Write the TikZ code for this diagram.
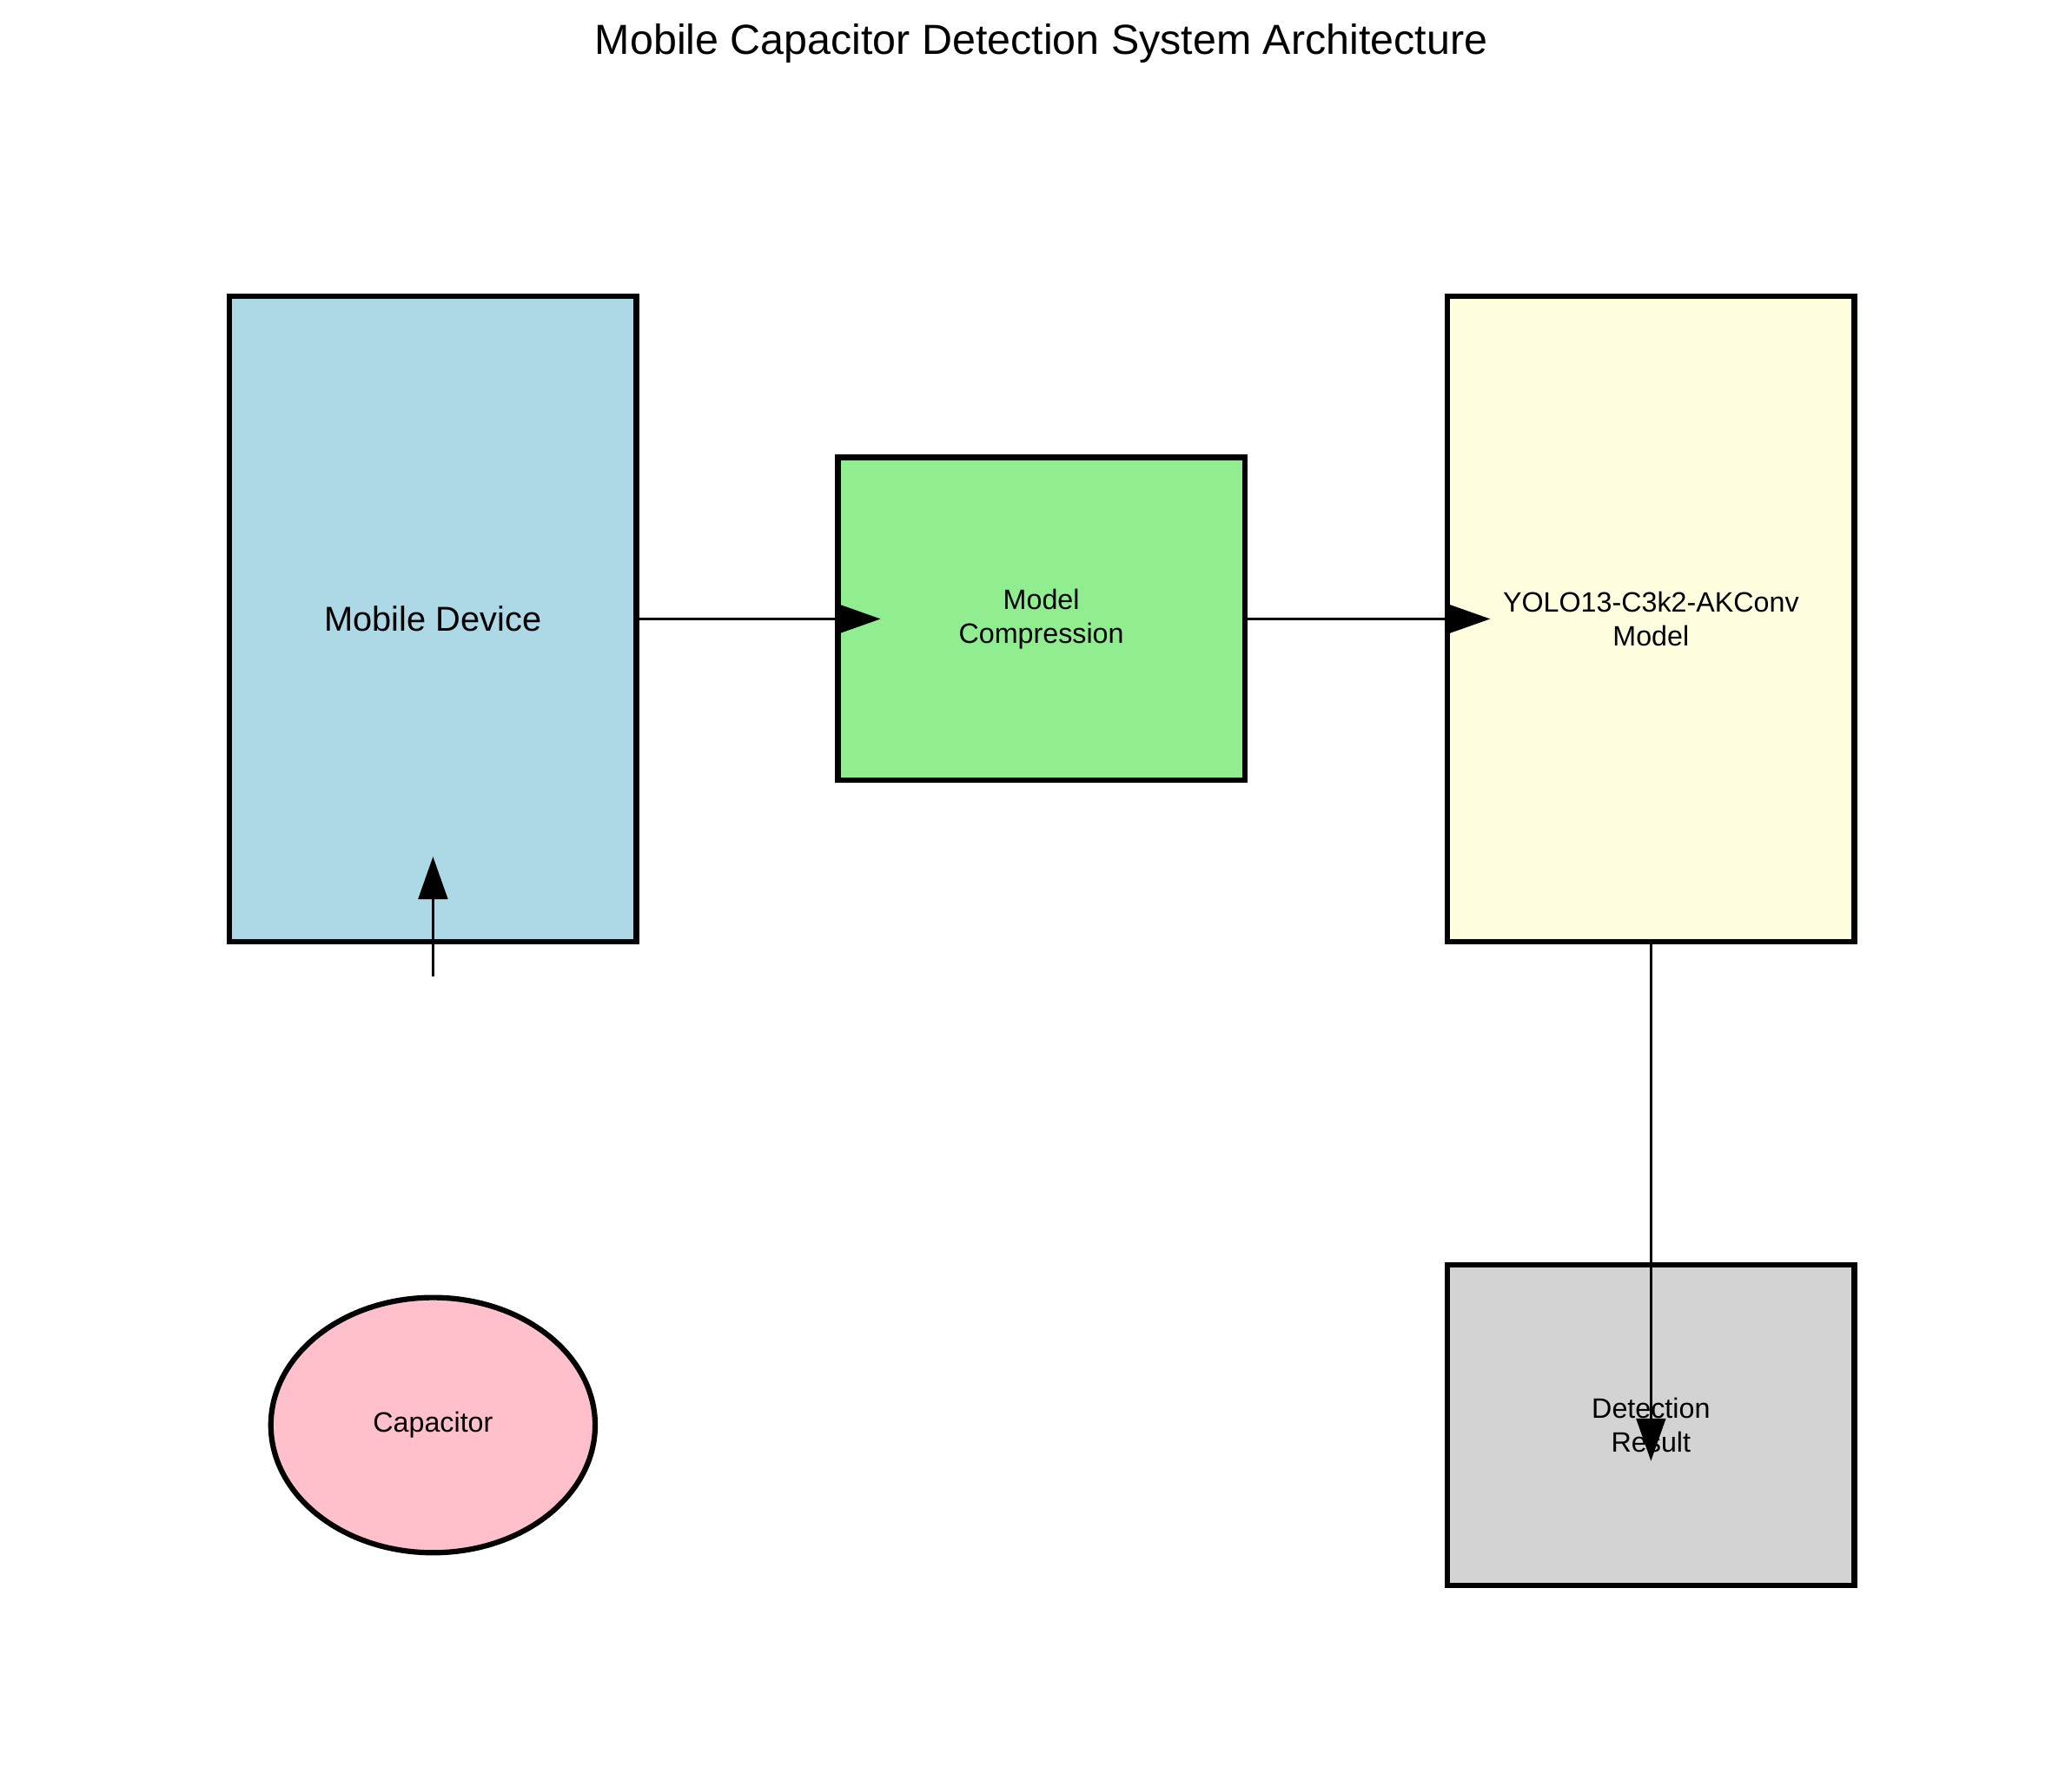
\documentclass[tikz,border=0pt]{standalone}
\usepackage{fontspec}
\setmainfont{Liberation Sans}
\usetikzlibrary{shapes.geometric,arrows.meta}
\definecolor{cblue}{HTML}{ADD8E6}
\definecolor{cgreen}{HTML}{90EE90}
\definecolor{cyellow}{HTML}{FFFFE0}
\definecolor{cgray}{HTML}{D3D3D3}
\definecolor{cpink}{HTML}{FFC0CB}
\begin{document}
\begin{tikzpicture}[x=0.01cm,y=-0.01cm,
  box/.style={draw=black,line width=1.15pt,inner sep=0pt,align=center,font=\fontsize{6}{7.2}\selectfont},
  conn/.style={line width=0.6pt,-{Triangle[length=0.32cm,width=0.22cm]}}]
\useasboundingbox (0,0) rectangle (1560,1330);
\node[font=\fontsize{9}{11}\selectfont] (title) at (784,33) {Mobile Capacitor Detection System Architecture};
\node[box,fill=cblue,minimum width=3.06cm,minimum height=4.86cm,font=\fontsize{7.4}{9}\selectfont] (mob) at (326,466) {Mobile Device};
\node[box,fill=cgreen,minimum width=3.06cm,minimum height=2.43cm] (comp) at (784,466) {Model\\Compression};
\node[box,fill=cyellow,minimum width=3.06cm,minimum height=4.86cm] (yolo) at (1243,466) {YOLO13-C3k2-AKConv\\Model};
\node[box,fill=cgray,minimum width=3.06cm,minimum height=2.41cm] (det) at (1243,1073) {Detection\\Result};
\node[box,ellipse,fill=cpink,minimum width=2.44cm,minimum height=1.92cm] (cap) at (326,1073) {Capacitor};
\coordinate (a1) at (663,466);
\coordinate (a2) at (1122,466);
\coordinate (a3) at (1243,1100);
\coordinate (a4s) at (326,735);
\coordinate (a4e) at (326,645);
\draw[conn] (mob.east) -- (a1);
\draw[conn] (comp.east) -- (a2);
\draw[conn] (yolo.south) -- (a3);
\draw[conn] (a4s) -- (a4e);
\end{tikzpicture}
\end{document}
